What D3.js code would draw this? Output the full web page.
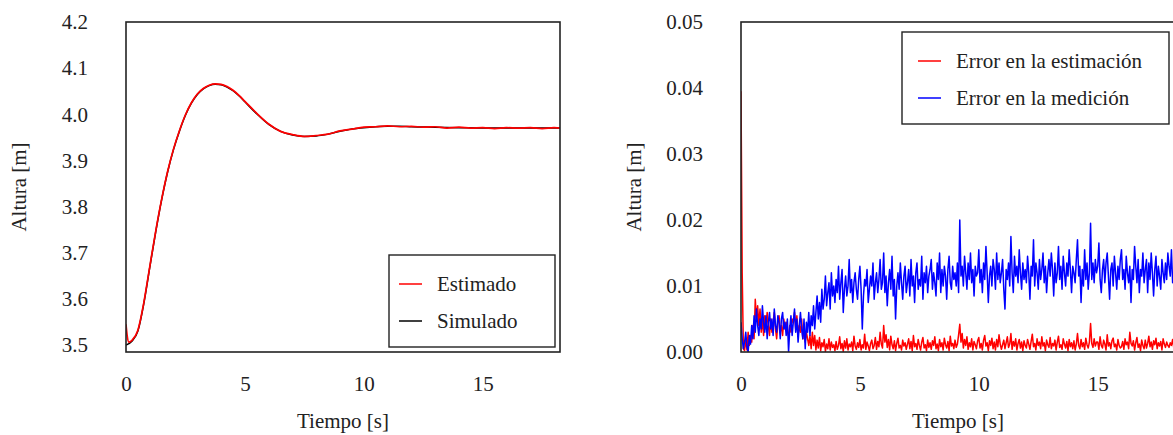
<!DOCTYPE html>
<html>
<head>
<meta charset="utf-8">
<script src="https://cdn.jsdelivr.net/npm/d3@7"></script>
<style>
body { margin: 0; background: #fff; }
text { font-family: "Liberation Serif", "Times New Roman", serif; fill: #222; }
</style>
</head>
<body>
<svg id="fig" width="1173" height="435"></svg>
<script>
// ---- datos ----
var ticksTiempo = [0, 5, 10, 15];
var ticksAltura = [3.5, 3.6, 3.7, 3.8, 3.9, 4.0, 4.1, 4.2];
var ticksError = [0.00, 0.01, 0.02, 0.03, 0.04, 0.05];

var leyendaIzq = ["Estimado", "Simulado"];
var leyendaDer = ["Error en la estimación", "Error en la medición"];

// altura simulada [m]
var tiempoSim = [0, 0.25, 0.5, 0.75, 1.0, 1.25, 1.5, 1.75, 2.0, 2.25, 2.5, 2.75, 3.0, 3.25, 3.5, 3.75,
  4.0, 4.25, 4.5, 4.75, 5.0, 5.5, 6.0, 6.5, 7.0, 7.5, 8.0, 8.5, 9.0, 9.5, 10.0, 10.5, 11.0, 11.5,
  12.0, 13.0, 14.0, 15.0, 16.0, 17.0, 18.25];
var alturaSim = [3.500, 3.508, 3.530, 3.590, 3.668, 3.745, 3.815, 3.875, 3.924, 3.964, 3.998, 4.024, 4.043, 4.055, 4.062, 4.065,
  4.064, 4.059, 4.051, 4.040, 4.027, 4.001, 3.978, 3.963, 3.955, 3.952, 3.953, 3.957, 3.963, 3.968, 3.971, 3.973, 3.974, 3.974,
  3.973, 3.972, 3.971, 3.970, 3.970, 3.970, 3.970];

// altura estimada [m]
var tiempoEst = [0, 0.05, 0.12, 0.25, 0.5, 0.75, 1.0, 1.25, 1.5, 1.75, 2.0, 2.25, 2.5, 2.75, 3.0, 3.25, 3.5, 3.75,
  4.0, 4.25, 4.5, 4.75, 5.0, 5.5, 6.0, 6.5, 7.0, 7.5, 8.0, 8.5, 9.0, 9.5, 10.0, 10.5, 11.0, 11.5,
  12.0, 12.5, 13.0, 13.5, 14.0, 14.5, 15.0, 15.5, 16.0, 16.5, 17.0, 17.5, 18.0, 18.25];
var alturaEst = [3.545, 3.520, 3.506, 3.510, 3.532, 3.592, 3.670, 3.747, 3.816, 3.876, 3.925, 3.965, 3.999, 4.025, 4.044, 4.056, 4.063, 4.066,
  4.065, 4.060, 4.052, 4.041, 4.028, 4.002, 3.979, 3.963, 3.956, 3.952, 3.954, 3.957, 3.964, 3.968, 3.972, 3.973, 3.975, 3.973,
  3.974, 3.972, 3.973, 3.970, 3.972, 3.970, 3.971, 3.969, 3.971, 3.970, 3.971, 3.969, 3.971, 3.970];

// errores [mm], una muestra cada 0.05 s (una fila = 1 s)
var pasoError = 0.05;
var errorEst = [
  39.5, 12.0, 0.5, 0.2, 2.0, 0.3, 3.0, 1.0, 2.5, 1.5, 4.0, 2.0, 8.0, 5.0, 7.0, 4.0, 6.5, 3.0, 5.0, 2.5,
  5.5, 3.5, 6.0, 4.0, 2.5, 5.0, 3.0, 4.5, 6.0, 3.5, 2.0, 4.5, 5.5, 3.0, 4.0, 2.5, 5.0, 3.5, 4.5, 3.0,
  2.5, 4.0, 3.0, 5.0, 4.5, 6.0, 3.5, 5.5, 2.5, 4.0, 3.0, 5.0, 2.0, 3.5, 1.5, 3.0, 2.0, 1.0, 2.5, 0.5,
  3.0, 1.0, 2.5, 0.3, 1.8, 0.6, 2.2, 0.2, 1.4, 0.8, 1.9, 0.1, 1.2, 0.5, 2.0, 0.3, 1.5, 0.7, 1.1, 0.2,
  1.6, 0.4, 1.0, 2.3, 0.5, 1.3, 0.1, 1.7, 0.6, 2.0, 0.3, 1.2, 0.8, 1.5, 0.2, 2.4, 0.9, 0.4, 1.4, 0.7,
  1.9, 0.3, 1.1, 0.6, 2.7, 0.4, 1.5, 0.9, 0.2, 1.3, 1.8, 0.5, 1.0, 2.2, 0.4, 1.6, 0.8, 3.0, 1.2, 0.6,
  4.0, 1.5, 2.6, 0.7, 1.9, 0.3, 2.4, 1.1, 0.5, 1.7, 0.2, 1.3, 2.1, 0.6, 1.0, 0.3, 1.8, 0.9, 1.4, 0.4,
  1.2, 2.0, 0.5, 1.6, 0.2, 2.5, 0.8, 1.3, 0.4, 1.9, 1.0, 0.3, 1.5, 2.2, 0.6, 1.1, 0.2, 1.8, 0.7, 1.4,
  0.4, 1.7, 1.0, 2.3, 0.5, 1.2, 0.2, 1.9, 0.8, 1.4, 0.3, 2.1, 1.1, 0.6, 1.6, 0.2, 2.4, 0.9, 1.3, 0.5,
  1.8, 0.7, 1.2, 2.6, 4.2, 1.5, 2.8, 0.6, 1.9, 1.0, 2.3, 0.4, 1.4, 0.8, 2.0, 0.3, 1.6, 1.1, 0.5, 1.7,
  2.2, 0.6, 1.3, 0.3, 1.8, 2.5, 0.9, 1.4, 0.2, 1.7, 1.0, 2.1, 0.5, 1.5, 0.3, 1.9, 0.8, 2.6, 1.2, 0.4,
  1.1, 1.8, 0.5, 1.4, 2.3, 0.7, 1.2, 2.8, 0.4, 1.6, 0.9, 2.0, 0.3, 1.3, 1.9, 0.6, 1.5, 0.2, 1.7, 1.0,
  0.6, 1.9, 1.2, 0.4, 1.6, 2.7, 0.8, 1.3, 0.3, 2.0, 1.0, 1.5, 0.5, 2.3, 0.9, 1.4, 0.2, 1.8, 1.1, 0.7,
  2.2, 0.5, 1.3, 0.9, 1.8, 0.3, 1.5, 2.4, 0.7, 1.1, 0.4, 2.0, 1.2, 0.6, 1.6, 0.2, 1.9, 0.8, 1.4, 0.5,
  1.7, 0.3, 1.2, 2.8, 1.0, 0.5, 1.9, 0.8, 1.4, 0.4, 2.1, 1.1, 0.6, 1.5, 4.3, 1.3, 0.7, 2.0, 0.9, 1.5,
  1.5, 0.4, 2.3, 1.0, 0.6, 1.8, 1.2, 0.3, 2.6, 0.9, 1.4, 0.5, 1.7, 2.1, 0.8, 1.2, 0.3, 1.9, 1.0, 0.6,
  0.8, 1.6, 0.4, 2.0, 1.1, 1.5, 0.5, 3.0, 1.3, 0.9, 1.7, 0.3, 1.4, 2.2, 0.7, 1.2, 0.2, 1.8, 1.0, 0.5,
  1.8, 0.6, 1.3, 2.4, 0.8, 1.5, 0.4, 1.7, 1.1, 2.1, 0.5, 1.4, 0.9, 1.6, 0.3, 2.0, 1.2, 0.7, 1.5, 1.0,
  0.7, 1.4, 1.0, 1.9, 0.6, 1.3];
var errorMed = [
  4.5, 2.0, 0.5, 1.5, 3.0, 0.8, 0.0, 2.5, 1.2, 4.0, 2.0, 5.5, 3.0, 6.5, 4.0, 2.5, 5.0, 3.5, 7.0, 4.5,
  3.0, 5.5, 2.0, 4.5, 6.0, 3.5, 5.0, 2.5, 6.5, 4.0, 3.0, 5.5, 4.5, 2.0, 5.0, 6.0, 3.5, 4.5, 2.5, 5.0,
  0.0, 3.5, 5.5, 2.5, 4.5, 6.5, 3.0, 5.0, 1.5, 4.0, 6.0, 3.5, 2.0, 5.0, 0.5, 4.5, 3.0, 6.0, 2.5, 5.5,
  4.0, 7.0, 3.5, 6.0, 8.5, 5.0, 7.5, 4.5, 9.5, 6.5, 8.0, 11.5, 7.0, 9.0, 10.5, 6.5, 12.0, 8.5, 10.0, 7.5,
  11.0, 9.0, 13.0, 8.0, 10.5, 12.5, 6.0, 9.5, 11.5, 8.5, 10.0, 14.0, 9.0, 11.0, 7.5, 10.5, 12.0, 9.5, 8.0, 11.0,
  13.0, 9.5, 3.5, 8.5, 11.0, 10.0, 12.5, 7.5, 9.5, 11.5, 10.0, 13.5, 8.0, 10.5, 12.0, 9.0, 11.0, 14.0, 9.5, 10.5,
  15.0, 9.0, 11.5, 7.0, 10.5, 12.5, 9.5, 14.5, 8.5, 11.0, 5.0, 10.0, 12.0, 9.5, 13.5, 10.5, 8.0, 11.5, 13.0, 9.0,
  10.5, 12.5, 8.5, 14.0, 10.0, 11.5, 7.5, 12.0, 13.5, 9.5, 11.0, 10.0, 14.5, 8.0, 12.0, 10.5, 13.0, 9.0, 11.5, 12.5,
  14.0, 9.5, 12.0, 10.5, 8.5, 13.5, 11.0, 15.0, 9.0, 12.5, 10.0, 13.0, 11.5, 8.0, 12.5, 14.5, 10.5, 9.5, 13.0, 11.0,
  12.0, 10.0, 13.5, 9.0, 20.0, 11.5, 13.0, 10.0, 14.5, 12.0, 9.5, 13.5, 11.0, 15.0, 10.5, 12.5, 8.5, 13.0, 11.5, 12.0,
  15.5, 10.5, 12.5, 9.0, 13.5, 11.0, 16.0, 12.0, 7.5, 11.5, 13.0, 10.0, 14.0, 12.5, 9.5, 15.0, 11.0, 13.5, 10.5, 12.0,
  14.0, 9.5, 6.5, 12.5, 11.0, 13.5, 10.0, 17.5, 12.0, 9.0, 14.5, 11.5, 13.0, 10.5, 15.5, 12.0, 9.5, 13.5, 11.0, 12.5,
  10.5, 14.5, 12.0, 8.0, 13.0, 11.5, 17.0, 10.0, 13.5, 12.0, 9.5, 14.0, 11.0, 12.5, 15.0, 10.5, 13.0, 9.0, 12.0, 14.0,
  11.5, 15.0, 12.5, 8.5, 13.5, 10.5, 12.0, 16.0, 11.0, 13.0, 9.5, 14.5, 12.0, 10.0, 13.5, 11.5, 15.5, 12.5, 9.0, 13.0,
  12.0, 10.5, 14.0, 17.0, 11.5, 13.0, 7.5, 12.5, 10.0, 15.5, 11.0, 13.5, 9.5, 12.0, 19.5, 11.0, 13.5, 10.5, 14.0, 12.0,
  13.0, 16.5, 11.0, 9.0, 12.5, 14.0, 10.5, 13.5, 15.0, 11.5, 8.0, 12.5, 13.5, 10.0, 14.5, 12.0, 9.5, 13.0, 11.0, 14.0,
  15.5, 11.0, 12.5, 9.5, 14.5, 12.0, 10.5, 13.0, 7.5, 12.5, 11.0, 16.0, 13.0, 10.5, 14.0, 9.0, 12.5, 11.5, 15.0, 10.5,
  12.5, 14.0, 9.0, 13.5, 11.0, 15.0, 12.0, 8.5, 12.5, 14.5, 10.0, 13.0, 11.5, 9.5, 14.0, 12.0, 10.5, 13.5, 11.0, 15.0,
  13.0, 11.5, 15.5, 10.5, 12.0, 13.5];

var svg = d3.select("#fig");
var fuente = 21;

function panel(opt) {
  var x = d3.scaleLinear().domain([0, 18.25]).range([opt.x0, opt.x1]);
  var y = d3.scaleLinear().domain(opt.dominio).range([352, 22]);
  var g = svg.append("g");

  g.append("clipPath").attr("id", opt.id)
    .append("rect")
    .attr("x", opt.x0).attr("y", 22)
    .attr("width", opt.x1 - opt.x0).attr("height", 330);

  // ejes sin marcas, solo etiquetas
  var ejeX = g.append("g")
    .attr("transform", "translate(0,352)")
    .call(d3.axisBottom(x).tickValues(ticksTiempo).tickSize(0).tickPadding(24));
  var ejeY = g.append("g")
    .attr("transform", "translate(" + opt.x0 + ",0)")
    .call(d3.axisLeft(y).tickValues(opt.ticks).tickFormat(opt.formato).tickSize(0).tickPadding(38));
  [ejeX, ejeY].forEach(function(e) {
    e.select(".domain").remove();
    e.selectAll("text").attr("font-size", fuente).attr("fill", "#222");
  });

  var trazos = g.append("g").attr("clip-path", "url(#" + opt.id + ")");
  opt.series.forEach(function(s) {
    var linea = d3.line()
      .x(function(d) { return x(d[0]); })
      .y(function(d) { return y(d[1]); })
      .curve(s.curva || d3.curveLinear);
    trazos.append("path")
      .datum(s.datos)
      .attr("d", linea)
      .attr("fill", "none")
      .attr("stroke", s.color)
      .attr("stroke-width", s.grosor || 1.5)
      .attr("stroke-linejoin", "round");
  });

  // marco
  g.append("rect")
    .attr("x", opt.x0).attr("y", 22)
    .attr("width", opt.x1 - opt.x0).attr("height", 330)
    .attr("fill", "none").attr("stroke", "#222").attr("stroke-width", 1.6);

  g.append("text")
    .attr("x", (opt.x0 + opt.x1) / 2).attr("y", 428)
    .attr("text-anchor", "middle").attr("font-size", fuente)
    .text("Tiempo [s]");
  g.append("text")
    .attr("transform", "translate(" + (opt.x0 - 100) + ",187) rotate(-90)")
    .attr("text-anchor", "middle").attr("font-size", fuente)
    .text("Altura [m]");

  // leyenda
  var ley = opt.leyenda;
  var lg = g.append("g");
  lg.append("rect")
    .attr("x", ley.x).attr("y", ley.y)
    .attr("width", ley.w).attr("height", ley.h)
    .attr("fill", "#fff").attr("stroke", "#222").attr("stroke-width", 1.4);
  var items = lg.selectAll("g.item").data(ley.textos).enter().append("g")
    .attr("class", "item")
    .attr("transform", function(d, i) { return "translate(" + ley.x + "," + (ley.y + 29 + i * 37) + ")"; });
  items.append("line")
    .attr("x1", ley.dx).attr("x2", ley.dx + 23)
    .attr("stroke", function(d, i) { return ley.colores[i]; })
    .attr("stroke-width", 1.5);
  items.append("text")
    .attr("x", ley.dx + 38).attr("dy", "0.33em")
    .attr("font-size", fuente)
    .text(function(d) { return d; });
}

panel({
  id: "clipIzq", x0: 126, x1: 560,
  dominio: [3.4848, 4.2], ticks: ticksAltura, formato: d3.format(".1f"),
  series: [
    { datos: d3.zip(tiempoSim, alturaSim), color: "#000", curva: d3.curveMonotoneX },
    { datos: d3.zip(tiempoEst, alturaEst), color: "#ff0000", curva: d3.curveMonotoneX, grosor: 1.7 }
  ],
  leyenda: { x: 389, y: 255, w: 166, h: 92, dx: 10, textos: leyendaIzq, colores: ["#ff0000", "#000"] }
});

panel({
  id: "clipDer", x0: 741, x1: 1175,
  dominio: [0, 0.05], ticks: ticksError, formato: d3.format(".2f"),
  series: [
    { datos: errorEst.map(function(v, i) { return [i * pasoError, v / 1000]; }), color: "#ff0000" },
    { datos: errorMed.map(function(v, i) { return [i * pasoError, v / 1000]; }), color: "#0000ff" }
  ],
  leyenda: { x: 902, y: 32, w: 267, h: 92, dx: 16, textos: leyendaDer, colores: ["#ff0000", "#0000ff"] }
});
</script>
</body>
</html>
